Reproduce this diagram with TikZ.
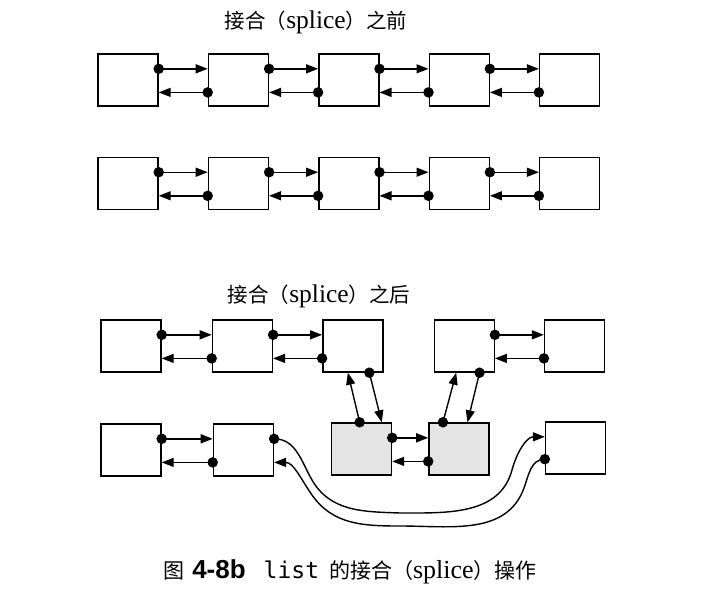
\documentclass[tikz,border=0pt]{standalone}
\usepackage{fontspec}
\setmainfont{Liberation Serif}
\setmonofont{DejaVu Sans Mono}
\newfontfamily\cjk{Noto Sans CJK SC}
\newfontfamily\capsf{Liberation Sans}
\usetikzlibrary{positioning,arrows.meta,calc}
\definecolor{shade}{HTML}{E4E4E4}

\begin{document}
\begin{tikzpicture}[x=1pt,y=-1pt,line width=1.4pt,node distance=49pt,
      c/.style={rectangle,draw,minimum width=60pt,minimum height=52pt,inner sep=0pt},
      g/.style={c,fill=shade},
      l/.style={-{Triangle[length=12pt,width=9pt]}},
      dot/.style={circle,fill,inner sep=0pt,minimum size=10.5pt}]
    \useasboundingbox (0,0) rectangle (705,612);
    % before
    \node[font=\fontsize{25.5}{27}\selectfont] (t1) at (316,22){{\cjk\fontsize{20.5}{22}\selectfont 接合（}splice{\cjk\fontsize{20.5}{22}\selectfont ）之前}};
    \node[c] (a1) at (128,80){};
    \node[c,right=of a1](a2){};
    \node[c,right=of a2](a3){};
    \node[c,right=of a3](a4){};
    \node[c,right=of a4](a5){};
    \node[c,below=50pt of a1](b1){};
    \node[c,right=of b1](b2){};
    \node[c,right=of b2](b3){};
    \node[c,right=of b3](b4){};
    \node[c,right=of b4](b5){};
    \draw[l](a1.20) node[dot]{} -- (a2.160);
    \draw[l](a2.202) node[dot]{} -- (a1.-22);
    \draw[l](a2.20) node[dot]{} -- (a3.160);
    \draw[l](a3.202) node[dot]{} -- (a2.-22);
    \draw[l](a3.20) node[dot]{} -- (a4.160);
    \draw[l](a4.202) node[dot]{} -- (a3.-22);
    \draw[l](a4.20) node[dot]{} -- (a5.160);
    \draw[l](a5.202) node[dot]{} -- (a4.-22);
    \draw[l](b1.20) node[dot]{} -- (b2.160);
    \draw[l](b2.202) node[dot]{} -- (b1.-22);
    \draw[l](b2.20) node[dot]{} -- (b3.160);
    \draw[l](b3.202) node[dot]{} -- (b2.-22);
    \draw[l](b3.20) node[dot]{} -- (b4.160);
    \draw[l](b4.202) node[dot]{} -- (b3.-22);
    \draw[l](b4.20) node[dot]{} -- (b5.160);
    \draw[l](b5.202) node[dot]{} -- (b4.-22);
    % after
    \node[font=\fontsize{25.5}{27}\selectfont] (t2) at (319,296){{\cjk\fontsize{20.5}{22}\selectfont 接合（}splice{\cjk\fontsize{20.5}{22}\selectfont ）之后}};
    \node[c] (c1) at (131,346){};
    \node[c,right=50pt of c1](c2){};
    \node[c,right=of c2](c3){};
    \node[c,right=50pt of c3](c4){};
    \node[c,right=49pt of c4](c5){};
    \node[c] (d1) at (131,450){};
    \node[c,right=51pt of d1](d2){};
    \node[g] (ga) at (361.5,449){};
    \node[g,right=36pt of ga](gb){};
    \node[c] (d6) at (575.5,448){};
    \draw[l](c1.20) node[dot]{} -- (c2.160);
    \draw[l](c2.202) node[dot]{} -- (c1.-22);
    \draw[l](c2.20) node[dot]{} -- (c3.160);
    \draw[l](c3.202) node[dot]{} -- (c2.-22);
    \draw[l](c4.20) node[dot]{} -- (c5.160);
    \draw[l](c5.202) node[dot]{} -- (c4.-22);
    \draw[l](d1.20) node[dot]{} -- (d2.160);
    \draw[l](d2.202) node[dot]{} -- (d1.-22);
    \draw[l](ga.20) node[dot]{} -- (gb.160);
    \draw[l](gb.202) node[dot]{} -- (ga.-22);
    \draw[l]($(c3.south west)!0.77!(c3.south east)$) node[dot]{} -- ($(ga.north west)!0.83!(ga.north east)$);
    \draw[l]($(ga.north west)!0.47!(ga.north east)$) node[dot]{} -- ($(c3.south west)!0.42!(c3.south east)$);
    \draw[l]($(c4.south west)!0.75!(c4.south east)$) node[dot]{} -- ($(gb.north west)!0.64!(gb.north east)$);
    \draw[l]($(gb.north west)!0.24!(gb.north east)$) node[dot]{} -- ($(c4.south west)!0.37!(c4.south east)$);
    \draw[l](d2.20) node[dot]{} to[out=0,in=120] (312,480) to[out=-60,in=178] (400,513)
        to[out=0,in=-105] (512,470) to[out=75,in=180] (d6.160);
    \draw[l](d6.200) node[dot]{} to[out=180,in=70] (524,488) to[out=-110,in=0] (400,526)
        to[out=180,in=-55] (312,495) to[out=125,in=0] (d2.-22);
    % caption
    \node[font=\fontsize{26}{28}\selectfont] (cap) at (350,572){{\cjk\fontsize{21}{23}\selectfont 图}\hspace{8pt}{\capsf\bfseries 4-8b}\hspace{18pt}{\ttfamily\fontsize{23}{25}\selectfont list}\hspace{10pt}{\cjk\fontsize{21}{23}\selectfont 的接合（}splice{\cjk\fontsize{21}{23}\selectfont ）操作}};
\end{tikzpicture}
\end{document}
